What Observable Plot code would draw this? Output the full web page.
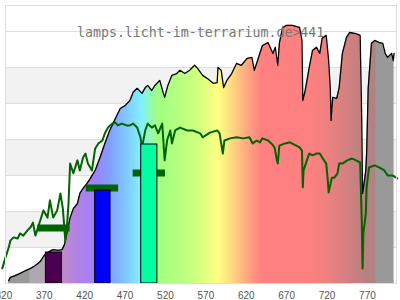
<!DOCTYPE html>
<html><head><meta charset="utf-8">
<script src="https://cdn.jsdelivr.net/npm/d3@7"></script>
<script src="https://cdn.jsdelivr.net/npm/@observablehq/plot@0.6"></script>
<style>body{margin:0;background:#fff}</style>
</head><body><div id="chart"></div>
<script>
const title = "lamps.licht-im-terrarium.de>441";
const xDomain = [322, 806];
const xTicks = [320,370,420,470,520,570,620,670,720,770];
const gridVals = [10,20,30,40,50,60,70];
const bandLo = [10,30,50];

const specNm = [326,328,334,340,347,353,359,365,369,372,379,381,387,392,395,398,402,406,411,414,418,423,427,433,439,445,451,455,460,464,470,476,480,485,491,495,498,503,507,513,517,519,523,528,534,538,544,550,556,560,566,572,579,584,585,589,592,596,602,608,614,621,627,630,634,640,647,653,656,659,661,665,670,677,686,689,690,693,698,702,707,711,714,719,722,724,725,727,732,735,739,744,748,756,761,763,764,765,768,769,771,775,779,785,789,792,795,800,802,803];
const specVal = [0.8,1.7,2.2,2.8,3.6,4.2,5.0,6.1,7.5,8.3,9.2,9.4,9.2,9.4,10.8,13.9,18.3,20.8,22.2,25.0,26.4,27.8,29.2,31.4,35.0,38.9,42.5,44.4,46.7,48.6,49.4,50.8,53.1,54.2,52.8,54.4,55.0,53.6,55.0,56.4,53.1,51.7,55.0,57.8,58.3,59.2,58.3,59.2,60.6,59.7,57.8,56.9,55.6,55.8,60.0,59.2,54.4,56.4,58.3,61.1,60.6,62.5,62.8,59.2,61.9,66.1,66.9,63.9,65.6,60.6,66.7,71.1,71.7,71.7,71.1,67.5,50.8,53.6,60.0,64.7,65.6,63.9,68.1,68.9,61.9,54.4,45.3,51.7,51.4,54.4,63.9,68.3,69.7,69.4,68.9,45.3,25.0,26.4,31.4,36.1,54.4,66.7,67.5,66.9,66.7,63.9,62.8,63.9,61.9,63.9];

const greenNm = [318,322,326,328,332,337,340,344,349,353,356,359,363,365,369,374,377,381,386,390,393,396,398,400,402,406,411,414,418,421,424,429,433,437,442,445,449,454,458,461,466,472,476,480,485,489,491,495,498,503,507,511,516,519,522,526,528,532,538,547,554,563,566,575,584,587,591,593,600,608,616,624,628,633,637,640,647,651,655,658,659,661,668,674,682,686,689,690,691,695,698,702,707,711,714,719,721,722,726,729,733,735,739,745,751,756,761,763,764,765,768,769,772,779,785,791,795,801,807];
const greenVal = [4.2,7.2,10.0,11.9,12.8,12.5,13.9,13.3,14.7,15.6,16.9,13.3,16.1,17.5,20.3,18.3,23.1,18.3,20.3,25.0,20.8,11.9,15.6,22.2,33.3,30.6,34.2,31.4,35.0,36.1,33.3,31.4,37.5,38.9,39.7,41.7,43.3,44.4,44.7,43.9,44.4,43.9,43.9,44.4,43.3,40.6,37.8,42.5,44.4,43.3,43.9,41.7,44.4,34.2,39.7,42.5,38.9,42.5,43.3,42.5,42.5,41.7,40.6,41.9,42.5,41.7,36.1,39.7,40.3,40.6,40.3,40.6,38.9,39.7,39.2,40.3,39.7,38.9,37.8,34.2,33.3,38.3,38.9,39.2,38.3,37.8,36.9,26.7,31.4,34.2,36.1,35.6,36.1,36.1,35.0,33.3,28.6,25.3,29.4,29.4,30.6,33.3,33.3,34.2,34.7,34.2,33.6,17.5,4.2,13.9,19.4,26.7,32.2,32.8,32.2,31.4,30.0,30.0,29.2];

const barLo = [372,433,490];
const barHi = [392,452,510];
const barVal = [8.6,25.8,38.6];
const barColor = ["#4b004f","#0000ff","#00ffa0"];
const markCenter = [382,442,500];
const markHalf = 20;
const markVal = [15.4,26.5,30.7];

const gradNm = [322,352,352.5,372,392,414,433,452,470,490,510,540,565,585,600,615,630,640,700,720,745,770,780,781,806];
const gradColor = ["#999999","#999999","#b0a8b0","#b0a8b0","#c08cc8","#b080e8","#a080ff","#80a0ff","#80c4ff","#80f0ff","#a0ff80","#b8ff80","#d8ff80","#ffff80","#ffe080","#ffb880","#ff9480","#ff8080","#ff8080","#f08080","#d48080","#b88080","#ac8484","#999999","#999999"];

const spec = specNm.map((x,i)=>({x, y:specVal[i]}));
const green = greenNm.map((x,i)=>({x, y:greenVal[i]}));
const bars = barLo.map((x1,i)=>({x1, x2:barHi[i], y:barVal[i], c:barColor[i]}));
const marks = markCenter.map((c,i)=>({x1:c-markHalf, x2:c+markHalf, y:markVal[i]}));

const plot = Plot.plot({
  width:400, height:300, marginTop:5, marginBottom:17, marginLeft:5, marginRight:4,
  x:{domain:xDomain, ticks:xTicks, tickSize:0, tickPadding:8, tickFormat:d=>String(d), label:null},
  y:{domain:[0,77.2], axis:null},
  color:{type:"identity"},
  style:{fontFamily:"Liberation Sans", fontSize:"10px", color:"#555", background:"#fff"},
  marks:[
    Plot.rect(bandLo, {x1:()=>xDomain[0], x2:()=>xDomain[1], y1:d=>d, y2:d=>d+10, fill:"#f2f2f2"}),
    Plot.ruleY(gridVals, {stroke:"#dddddd"}),
    Plot.areaY(spec, {x:"x", y:"y", fill:"url(#specgrad)"}),
    Plot.line(spec, {x:"x", y:"y", stroke:"black", strokeWidth:1.3}),
    Plot.line(green, {x:"x", y:"y", stroke:"#006400", strokeWidth:2}),
    Plot.ruleY(marks, {x1:"x1", x2:"x2", y:"y", stroke:"#006400", strokeWidth:7}),
    Plot.rect(bars, {x1:"x1", x2:"x2", y1:()=>0, y2:"y", fill:d=>d.c, stroke:"black", strokeWidth:1}),
    Plot.frame({stroke:"#dddddd"}),
    Plot.text([title], {frameAnchor:"top-left", dx:71.5, dy:22, textAnchor:"start", lineAnchor:"top", fontFamily:"DejaVu Sans Mono", fontSize:13.25, fill:"#777"})
  ]
});

const xs = plot.scale("x");
const ns = "http://www.w3.org/2000/svg";
const defs = document.createElementNS(ns, "defs");
const grad = document.createElementNS(ns, "linearGradient");
grad.setAttribute("id", "specgrad");
grad.setAttribute("gradientUnits", "userSpaceOnUse");
grad.setAttribute("x1", xs.apply(xDomain[0]));
grad.setAttribute("x2", xs.apply(xDomain[1]));
grad.setAttribute("y1", 0);
grad.setAttribute("y2", 0);
gradNm.forEach((nm, i) => {
  const s = document.createElementNS(ns, "stop");
  s.setAttribute("offset", (nm - xDomain[0]) / (xDomain[1] - xDomain[0]));
  s.setAttribute("stop-color", gradColor[i]);
  grad.appendChild(s);
});
defs.appendChild(grad);
plot.insertBefore(defs, plot.firstChild);
document.getElementById("chart").appendChild(plot);
</script>
</body></html>
